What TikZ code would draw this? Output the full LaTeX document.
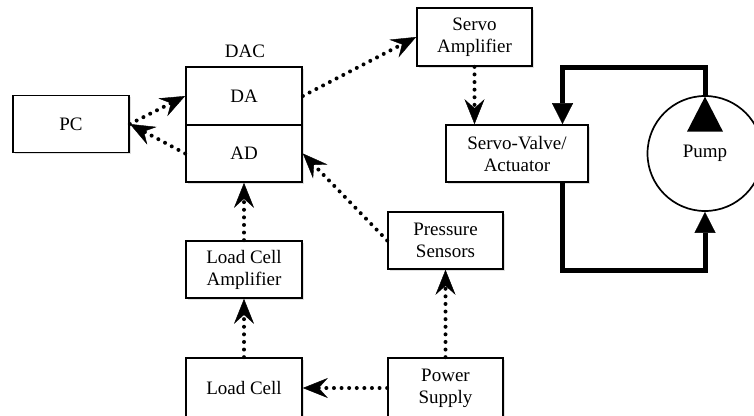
\documentclass[tikz,border=0pt]{standalone}
\usepackage{fontspec}
\setmainfont{Liberation Serif}
\usetikzlibrary{arrows.meta,calc,shadows}
\begin{document}
\begin{tikzpicture}[x=1pt,y=-1pt,
  txt/.style={font=\fontsize{19}{22}\selectfont},
  box/.style={draw, fill=white, line width=1.7pt, minimum width=116pt, minimum height=57pt, inner sep=0pt, align=center, txt,
    drop shadow={opacity=0.25, shadow xshift=1.5pt, shadow yshift=-1.5pt}},
  lbl/.style={txt, inner sep=0pt},
  dotarrow/.style={line width=4pt, dash pattern=on 0pt off 7.6pt, line cap=round, -{Stealth[length=25pt,width=20pt,inset=9pt,line width=0.4pt]}},
  pipe/.style={line width=5pt, line join=miter},
  pipetip/.style={-{Triangle[length=21pt,width=21pt,line width=0.4pt]}}
]
\useasboundingbox (0,0) rectangle (754,415);
\clip (0,0) rectangle (754,415);
\fill[white] (0,0) rectangle (754,415);

% nodes
\node[box] (PC) at (71,124) {PC};
\node[box, minimum height=58pt] (DA) at (244,96) {DA};
\node[box] (AD) at (244,153.5) {AD};
\node[lbl] (DAC) at (245,51) {DAC};
\node[box, minimum width=115pt, minimum height=58pt] (SA) at (474.5,37) {Servo\\Amplifier};
\node[box, minimum width=142pt] (SV) at (517,153.5) {Servo-Valve/\\Actuator};
\node[box] (LCA) at (244,269.5) {Load Cell\\Amplifier};
\node[box, minimum width=115pt] (PS) at (445.5,240.5) {Pressure\\Sensors};
\node[box, minimum height=60pt] (LC) at (244,388) {Load Cell};
\node[box, minimum width=115pt, minimum height=60pt] (PW) at (445.5,388) {Power\\Supply};
\node[draw, circle, line width=1.7pt, minimum size=115pt, inner sep=0pt, txt] (pump) at (705,153.5) {Pump};

% dotted signal connectors
\draw[dotarrow] (PC.east) -- (DA.west);
\draw[dotarrow] (AD.west) -- (PC.east);
\draw[dotarrow] (DA.east) -- (SA.west);
\draw[dotarrow] (SA.south) -- (SA.south |- SV.north);
\draw[dotarrow] (PS.west) -- (AD.east);
\draw[dotarrow] (LCA.north) -- (AD.south);
\draw[dotarrow] (LC.north) -- (LCA.south);
\draw[dotarrow] (PW.north) -- (PS.south);
\draw[dotarrow] (PW.west |- LC.east) -- (LC.east);

% hydraulic loop
\coordinate (top) at (705,67.5);
\coordinate (left) at (562.5,67.5);
\coordinate (bot) at (562.5,270.5);
\draw[pipe, pipetip] (pump.north) -- (top) -- (left) -- (left |- SV.north);
\draw[pipe, pipetip] (bot |- SV.south) -- (bot) -| (pump.south);
\fill ([yshift=-1.5pt]pump.north) -- ++(-18,35) -- ++(36,0) -- cycle;
\end{tikzpicture}
\end{document}
